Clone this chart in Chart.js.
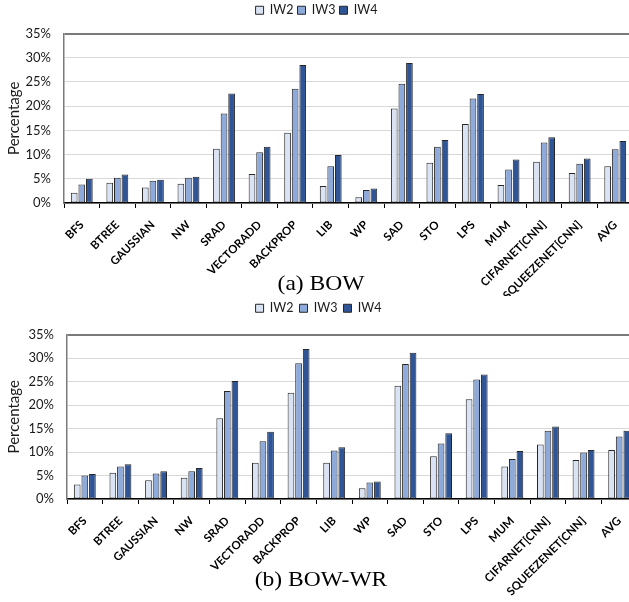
<!DOCTYPE html>
<html>
<head>
<meta charset="utf-8">
<script src="https://cdn.jsdelivr.net/npm/chart.js@4/dist/chart.umd.min.js"></script>
<style>
  html, body { margin: 0; padding: 0; background: #fff; overflow: hidden; }
  #wrap { position: relative; width: 640px; height: 602px; }
  canvas { position: absolute; left: 0; }
  .cap { position: absolute; width: 200px; text-align: center; font-family: "Liberation Serif", serif;
         font-size: 21px; color: #000; white-space: nowrap; transform: scaleX(1.12); }
</style>
</head>
<body>
<div id="wrap">
  <canvas id="bow" width="640" height="296" style="top:0;width:640px;height:296px"></canvas>
  <canvas id="bowwr" width="640" height="306" style="top:296px;width:640px;height:306px"></canvas>
  <div class="cap" id="capA" style="left:221px;top:271px">(a) BOW</div>
  <div class="cap" id="capB" style="left:221px;top:567px">(b) BOW-WR</div>
</div>
<script>
// benchmarks on the x axis
const categories = ["BFS", "BTREE", "GAUSSIAN", "NW", "SRAD", "VECTORADD", "BACKPROP", "LIB",
  "WP", "SAD", "STO", "LPS", "MUM", "CIFARNET[CNN]", "SQUEEZENET[CNN]", "AVG"];
const seriesNames = ["IW2", "IW3", "IW4"];

// (a) BOW, percent
const bowIW2 = [2.1, 4.2, 3.2, 4.0, 11.2, 6.0, 14.5, 3.5, 1.2, 19.5, 8.3, 16.3, 3.7, 8.5, 6.2, 7.6];
const bowIW3 = [3.8, 5.2, 4.6, 5.2, 18.5, 10.5, 23.6, 7.6, 2.7, 24.6, 11.6, 21.6, 6.9, 12.5, 8.1, 11.1];
const bowIW4 = [5.0, 5.9, 4.8, 5.4, 22.6, 11.6, 28.5, 9.9, 3.0, 28.9, 13.0, 22.5, 9.0, 13.6, 9.2, 12.8];

// (b) BOW-WR, percent
const bowwrIW2 = [3.1, 5.6, 4.0, 4.5, 17.2, 7.7, 22.6, 7.7, 2.3, 24.1, 9.1, 21.2, 6.9, 11.6, 8.3, 10.4];
const bowwrIW3 = [5.0, 6.9, 5.4, 5.9, 23.0, 12.3, 28.9, 10.3, 3.5, 28.7, 11.8, 25.4, 8.5, 14.5, 9.9, 13.3];
const bowwrIW4 = [5.3, 7.4, 5.9, 6.6, 25.1, 14.3, 31.9, 11.0, 3.7, 31.1, 14.0, 26.5, 10.2, 15.4, 10.4, 14.5];

// y axis
const yMin = 0, yMax = 35, yStep = 5;

const fills = ["#dae3f3", "#8eaadb", "#2f5597"];

Chart.defaults.font.family = "Lato, 'Open Sans', sans-serif";
Chart.defaults.color = "#1a1a1a";
Chart.defaults.animation = false;

function makeChart(id, values, g) {
  const ctx = document.getElementById(id).getContext("2d");
  return new Chart(ctx, {
    type: "bar",
    data: {
      labels: categories,
      datasets: values.map((v, i) => ({
        label: seriesNames[i],
        data: v,
        backgroundColor: fills[i],
        borderColor: "#262626",
        borderWidth: 1,
        borderSkipped: false,
        categoryPercentage: 0.64,
        barPercentage: 0.88
      }))
    },
    options: {
      responsive: false,
      devicePixelRatio: 1,
      layout: { padding: { top: 0, right: g.right, bottom: 0, left: 0 } },
      plugins: {
        legend: {
          position: "top",
          labels: { boxWidth: 8, boxHeight: 8, padding: g.legendPad, font: { size: 12.5 }, color: "#1a1a1a" }
        },
        // empty title only used as a gap between legend and plot
        title: { display: true, text: "", weight: 500, font: { size: 1, lineHeight: 1 },
                 padding: { top: 0, bottom: g.gap } },
        tooltip: { enabled: false }
      },
      scales: {
        x: {
          grid: { display: true, drawOnChartArea: false, drawTicks: true, tickLength: 5, color: "#000", offset: true },
          border: { display: true, color: "#000", width: 1.5 },
          ticks: {
            autoSkip: false, minRotation: 45, maxRotation: 45, padding: 10,
            font: { size: 11.5, weight: "bold" }, color: "#000"
          },
          afterFit: s => { s.height = g.xh; }
        },
        y: {
          min: yMin, max: yMax,
          ticks: { stepSize: yStep, padding: 13, font: { size: 13 }, color: "#1a1a1a",
                   callback: v => v + "%" },
          grid: {
            drawTicks: false,
            color: c => c.tick && c.tick.value === yMax ? "#7a7a7a" : "#d9d9d9",
            lineWidth: c => c.tick && c.tick.value === yMax ? 2 : 1
          },
          border: { display: true, color: "#7a7a7a", width: 1.5 },
          title: { display: true, text: "Percentage", font: { size: 15 }, color: "#1a1a1a",
                   padding: { top: 5, bottom: 0 } },
          afterFit: s => { s.width = g.yw; }
        }
      }
    }
  });
}

makeChart("bow", [bowIW2, bowIW3, bowIW4], { right: 7, legendPad: 4, gap: 6, xh: 93, yw: 64 });
makeChart("bowwr", [bowwrIW2, bowwrIW3, bowwrIW4], { right: 3, legendPad: 6, gap: 9, xh: 103, yw: 67 });
</script>
</body>
</html>
